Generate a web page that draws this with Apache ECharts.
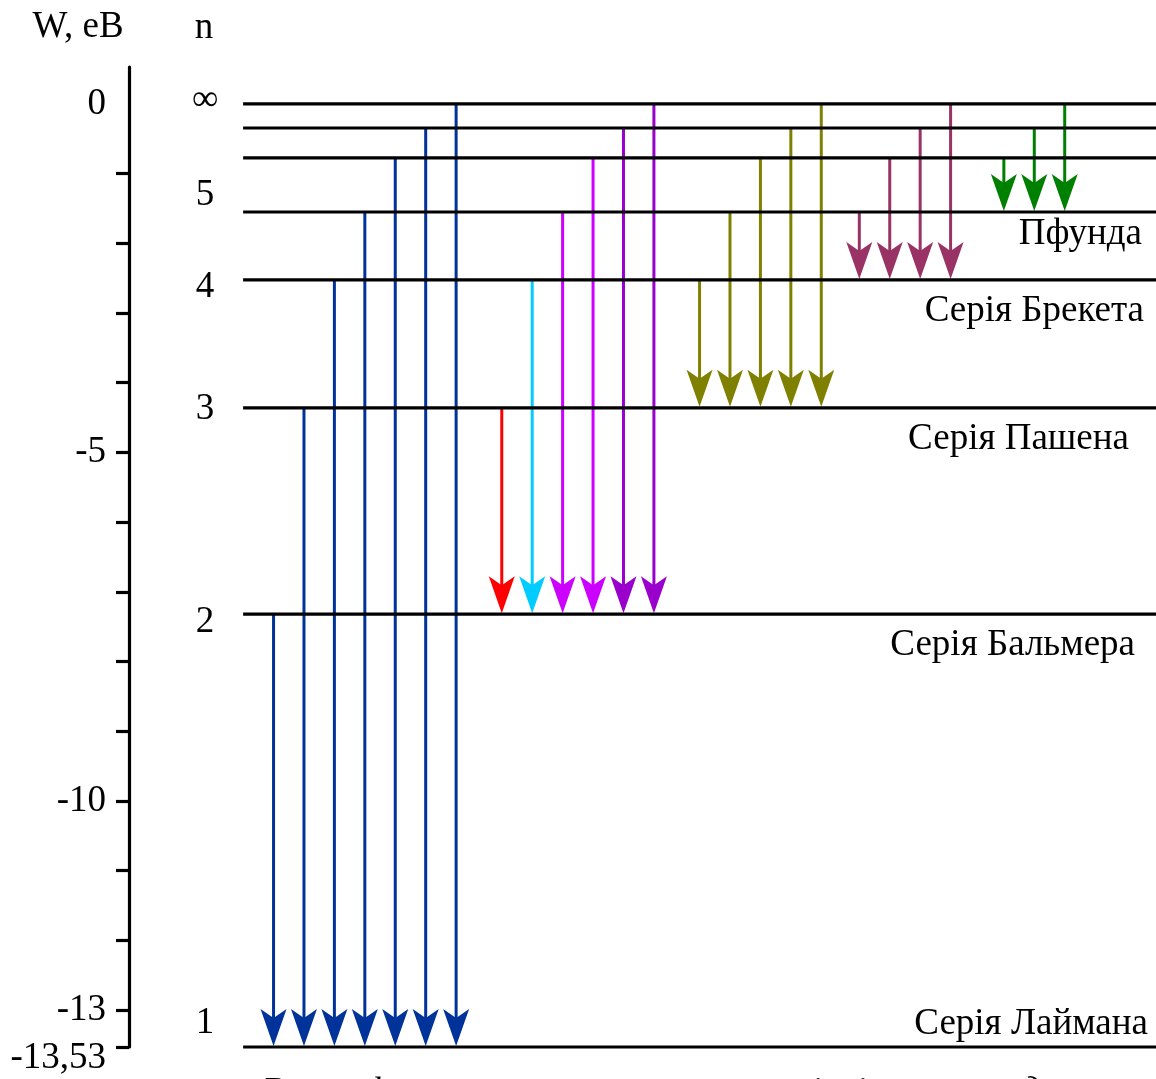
<!DOCTYPE html>
<html><head><meta charset="utf-8">
<script src="https://cdn.jsdelivr.net/npm/echarts@6/dist/echarts.min.js"></script>
<style>html,body{margin:0;padding:0;background:#fff;}#main{width:1156px;height:1079px;}</style>
</head><body><div id="main"></div>
<script>
// ---------- data ----------
const levelNames = ['1', '2', '3', '4', '5', '', '', '∞'];
const levelEnergy = [-13.53, -7.32, -4.36, -2.525, -1.55, -0.775, -0.345, 0];
const energyTicks = [-1, -2, -3, -4, -5, -6, -7, -8, -9, -10, -11, -12, -13, -13.53];
const energyLabels = [0, -5, -10, -13, -13.53];
const seriesNames = ['Серія Лаймана', 'Серія Бальмера', 'Серія Пашена', 'Серія Брекета', 'Пфунда'];
const seriesLower = [0, 1, 2, 3, 4];            // index into levels
const lymanUpper = [1, 2, 3, 4, 5, 6, 7];
const balmerUpper = [2, 3, 4, 5, 6, 7];
const paschenUpper = [3, 4, 5, 6, 7];
const brackettUpper = [4, 5, 6, 7];
const pfundUpper = [5, 6, 7];
const seriesUpper = [lymanUpper, balmerUpper, paschenUpper, brackettUpper, pfundUpper];
const axisName = 'W, eB';
const levelHeader = 'n';
const caption = 'Вплив фотона на енергетичному рівні атома водню';

// ---------- layout / style ----------
const FONT = '"Liberation Serif", "Times New Roman", serif';
const FS = 37;
const X_MIN = -3.75, X_MAX = 30, LEVEL_X0 = 0, N_LABEL_X = -1.25;
const seriesSlot0 = [1, 8.5, 15, 20.25, 25];
const seriesColors = [
  ['#003399', '#003399', '#003399', '#003399', '#003399', '#003399', '#003399'],
  ['#ff0000', '#00ccff', '#cc00ff', '#cc00ff', '#9900cc', '#9900cc'],
  ['#808000', '#808000', '#808000', '#808000', '#808000'],
  ['#993366', '#993366', '#993366', '#993366'],
  ['#008000', '#008000', '#008000']
];
const nLabelDy = [-24, 8, 1, 7, -17, 0, 0, -4];
const seriesLabelDx = [-8, -21, -27, -12, -14];
const seriesLabelDy = [-23, 31, 31, 31, 22];

// ---------- build ----------
const levelData = levelEnergy.map((e, i) => [LEVEL_X0, e, i]);
const arrowData = [];
seriesUpper.forEach((ups, s) => {
  ups.forEach((u, j) => {
    arrowData.push([seriesSlot0[s] + j, levelEnergy[u], levelEnergy[seriesLower[s]], s, j]);
  });
});
const nameData = seriesNames.map((n, s) => [X_MAX, levelEnergy[seriesLower[s]], s]);

function renderLevel(params, api) {
  const e = api.value(1), i = api.value(2);
  const p1 = api.coord([LEVEL_X0, e]);
  const p2 = api.coord([X_MAX, e]);
  const pl = api.coord([N_LABEL_X, e]);
  const children = [{
    type: 'line',
    shape: { x1: p1[0], y1: p1[1], x2: p2[0], y2: p2[1] },
    style: { stroke: '#000', lineWidth: 3.2 }
  }];
  if (levelNames[i]) {
    children.push({
      type: 'text', x: pl[0], y: pl[1] + nLabelDy[i],
      style: { text: levelNames[i], fill: '#000', font: FS + 'px ' + FONT, align: 'center', verticalAlign: 'middle' }
    });
  }
  return { type: 'group', children };
}

function renderArrow(params, api) {
  const x = api.value(0), eTop = api.value(1), eBot = api.value(2);
  const s = api.value(3), j = api.value(4);
  const top = api.coord([x, eTop]);
  const tip = api.coord([x, eBot]);
  const ty = tip[1] - 1;
  const color = seriesColors[s][j];
  const L = 37, W = 13, N = 28;
  return {
    type: 'group', children: [
      { type: 'line', shape: { x1: top[0], y1: top[1], x2: tip[0], y2: ty - N + 2 }, style: { stroke: color, lineWidth: 3 } },
      { type: 'polygon', shape: { points: [[tip[0], ty], [tip[0] - W, ty - L], [tip[0], ty - N], [tip[0] + W, ty - L]] }, style: { fill: color } }
    ]
  };
}

function renderName(params, api) {
  const e = api.value(1), s = api.value(2);
  const p = api.coord([X_MAX, e]);
  return {
    type: 'text', x: p[0] + seriesLabelDx[s], y: p[1] + seriesLabelDy[s],
    style: { text: seriesNames[s], fill: '#000', font: FS + 'px ' + FONT, align: 'right', verticalAlign: 'middle' }
  };
}

const chart = echarts.init(document.getElementById('main'), null, { renderer: 'canvas' });
chart.setOption({
  animation: false,
  backgroundColor: '#fff',
  grid: { left: 129, right: 0, top: 67, bottom: 32, outerBoundsMode: 'none' },
  xAxis: { type: 'value', min: X_MIN, max: X_MAX, show: false },
  yAxis: {
    type: 'value', min: -13.53, max: 0.53, position: 'left',
    axisLine: { show: true, onZero: false, lineStyle: { color: '#000', width: 3.2 } },
    axisTick: { show: true, customValues: energyTicks, length: 13, lineStyle: { color: '#000', width: 3.2 } },
    axisLabel: {
      show: true, customValues: energyLabels, margin: 23, color: '#000', fontSize: FS, fontFamily: FONT,
      formatter: function (v) {
        const t = String(v).replace('.', ',');
        return Math.abs(v - energyLabels[energyLabels.length - 1]) < 1e-6 ? '{low|' + t + '}' : t;
      },
      rich: { low: { padding: [22, 0, 0, 0], fontSize: FS, fontFamily: FONT, color: '#000' } }
    },
    splitLine: { show: false }
  },
  graphic: [
    { type: 'text', x: 78, y: 27, style: { text: axisName, fill: '#000', font: FS + 'px ' + FONT, align: 'center', verticalAlign: 'middle' } },
    { type: 'text', x: 204, y: 28, style: { text: levelHeader, fill: '#000', font: FS + 'px ' + FONT, align: 'center', verticalAlign: 'middle' } },
    { type: 'text', x: 262, y: 1075, style: { text: caption, fill: '#000', font: 'italic ' + FS + 'px ' + FONT, align: 'left', verticalAlign: 'top' } }
  ],
  series: [
    { type: 'custom', name: 'arrows', renderItem: renderArrow, data: arrowData, encode: { x: 0, y: [1, 2] }, clip: false, z: 2 },
    { type: 'custom', name: 'levels', renderItem: renderLevel, data: levelData, encode: { x: 0, y: 1 }, clip: false, z: 3 },
    { type: 'custom', name: 'names', renderItem: renderName, data: nameData, encode: { x: 0, y: 1 }, clip: false, z: 4 }
  ]
});
</script>
</body></html>
